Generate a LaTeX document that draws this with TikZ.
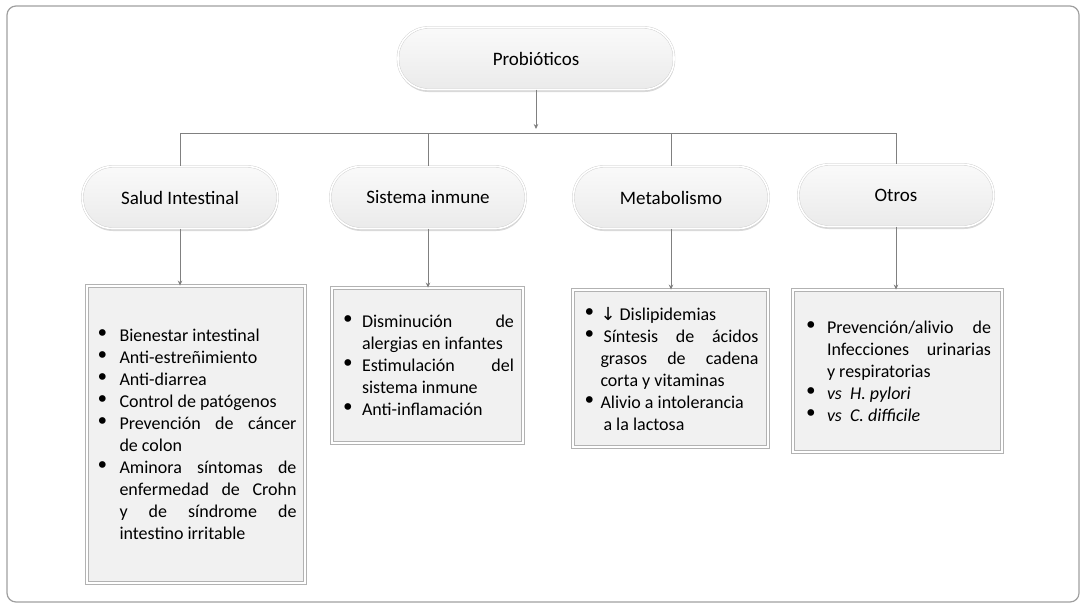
\documentclass[tikz,border=0pt]{standalone}
\usepackage{fontspec}
\setmainfont{Carlito}
\newfontfamily\symfont{DejaVu Sans}
\usetikzlibrary{arrows.meta,shadows}
\newcommand\dotb{{\fontsize{23}{22}\selectfont\symfont •}}
\newcommand\BL[3]{\makebox[#1pt][l]{\dotb}\makebox[#2pt][l]{#3}}
\newcommand\BS[3]{\makebox[#1pt][l]{\dotb}\makebox[#2pt][s]{#3}}
\newcommand\CL[3]{\makebox[#1pt][l]{}\makebox[#2pt][l]{#3}}
\newcommand\CS[3]{\makebox[#1pt][l]{}\makebox[#2pt][s]{#3}}
\tikzset{
  pill/.style={rectangle, rounded corners=30pt, draw=gray!40, double=white,
    double distance=1.6pt, top color=gray!4, bottom color=gray!16,
    minimum height=62pt, font=\fontsize{19}{22}\selectfont, text=black,
    drop shadow={shadow xshift=0.5pt, shadow yshift=-2.5pt, opacity=0.3, fill=gray}},
  infobox/.style={rectangle, draw=gray!60, line width=0.9pt, double=white, double distance=1.4pt,
    fill=gray!11, align=left, inner sep=0pt, font=\fontsize{18}{22}\selectfont,
    drop shadow={shadow xshift=1pt, shadow yshift=-2pt, opacity=0.25, fill=gray}},
  conn/.style={draw=gray, line width=0.8pt},
  arr/.style={conn, -{Stealth[length=5pt,width=4.5pt]}}
}
\begin{document}
\begin{tikzpicture}[x=1pt,y=-1pt]
\useasboundingbox (0,0) rectangle (1083,605);
\draw[gray!75, line width=1.2pt, rounded corners=9pt] (7,6) rectangle (1079,602);

\node[pill, minimum width=276pt] (pro) at (536,58.5) {Probióticos};
\node[pill, minimum width=195pt] (salud) at (180,197.5) {Salud Intestinal};
\node[pill, minimum width=195pt] (sist) at (428,197.5) {Sistema inmune};
\node[pill, minimum width=195pt] (meta) at (671,197.5) {Metabolismo};
\node[pill, minimum width=195pt] (otros) at (896,195.5) {Otros};

\coordinate (hub) at (536,129);
\coordinate (b1) at (180,133);
\coordinate (b2) at (428,133);
\coordinate (b3) at (671,133);
\coordinate (b4) at (896,133);

\node[infobox, minimum width=218pt, minimum height=297pt] (box1) at (196,434.5) {%
\BL{24}{177}{Bienestar intestinal}\\
\BL{24}{177}{Anti-estreñimiento}\\
\BL{24}{177}{Anti-diarrea}\\
\BL{24}{177}{Control de patógenos}\\
\BS{24}{177}{Prevención de cáncer}\\
\CL{24}{177}{de colon}\\
\BS{24}{177}{Aminora síntomas de}\\
\CS{24}{177}{enfermedad de Crohn}\\
\CS{24}{177}{y de síndrome de}\\
\CL{24}{177}{intestino irritable}};

\node[infobox, minimum width=191pt, minimum height=155pt] (box2) at (427.5,365.5) {%
\BS{21}{152}{Disminución de}\\
\CL{21}{152}{alergias en infantes}\\
\BS{21}{152}{Estimulación del}\\
\CL{21}{152}{sistema inmune}\\
\BL{21}{152}{Anti-inflamación}};

\node[infobox, minimum width=195pt, minimum height=157pt] (box3) at (670.5,368.5) {%
\BL{18}{158}{{\symfont ↓} Dislipidemias}\\
\BS{18}{158}{\hspace*{3pt}Síntesis de ácidos}\\
\CS{18}{158}{grasos de cadena}\\
\CL{18}{158}{corta y vitaminas}\\
\BL{18}{158}{Alivio a intolerancia}\\
\CL{18}{158}{\hspace*{3pt}a la lactosa}};

\node[infobox, minimum width=209pt, minimum height=162pt] (box4) at (897.5,371) {%
\BS{23}{164}{Prevención/alivio de}\\
\CS{23}{164}{Infecciones urinarias}\\
\CL{23}{164}{y respiratorias}\\
\BL{23}{164}{\textit{vs\ \ H. pylori}}\\
\BL{23}{164}{\textit{vs\ \ C. difficile}}};

\draw[arr] (pro.south) -- (hub);
\draw[conn] (b1) -- (b4);
\draw[conn] (b1) -- (salud.north);
\draw[conn] (b2) -- (sist.north);
\draw[conn] (b3) -- (meta.north);
\draw[conn] (b4) -- (otros.north);
\draw[arr] (salud.south) -- (salud.south |- box1.north);
\draw[arr] (sist.south) -- (sist.south |- box2.north);
\draw[arr] (meta.south) -- (meta.south |- box3.north);
\draw[arr] (otros.south) -- (otros.south |- box4.north);
\end{tikzpicture}
\end{document}
